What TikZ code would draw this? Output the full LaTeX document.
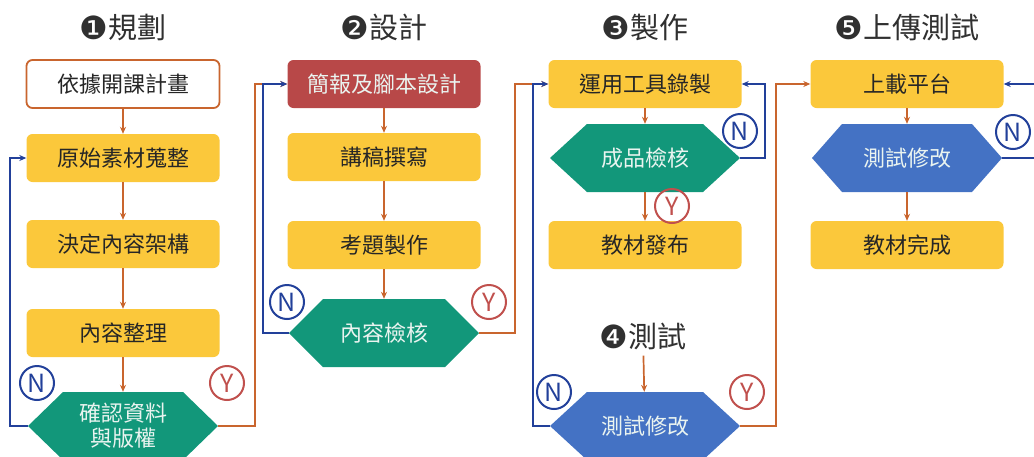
\documentclass[tikz,border=0pt]{standalone}
\usepackage{fontspec}
\setmainfont{Noto Sans CJK TC}
\newfontfamily\dingfont{DejaVu Sans}
\usetikzlibrary{arrows.meta}
\definecolor{boxyellow}{HTML}{FBC83B}
\definecolor{boxred}{HTML}{B84848}
\definecolor{hexteal}{HTML}{12977A}
\definecolor{hexblue}{HTML}{4472C4}
\definecolor{linenavy}{HTML}{22409A}
\definecolor{lineorange}{HTML}{C9652E}
\definecolor{ycol}{HTML}{C0504D}
\definecolor{textdark}{HTML}{262626}
\definecolor{titlegray}{HTML}{303030}
\definecolor{hextext}{HTML}{EAF4F0}
\tikzset{
  conn/.style={draw=lineorange, line width=1.7pt, -{Stealth[length=7pt,width=6pt]}},
  loopn/.style={draw=linenavy, line width=1.7pt, -{Stealth[length=7pt,width=6pt]}},
  ybox/.style={rectangle, rounded corners=6pt, fill=boxyellow, minimum width=193pt, minimum height=48pt, font=\fontsize{22}{26}\selectfont, text=textdark, inner sep=0pt},
  wbox/.style={ybox, fill=white, draw=lineorange, line width=1.8pt},
  rbox/.style={ybox, fill=boxred, text=hextext},
  titlestyle/.style={font=\fontsize{29}{34}\selectfont, text=titlegray, inner sep=0pt},
  hexbox/.style={rectangle, minimum width=190pt, minimum height=68pt, inner sep=0pt, font=\fontsize{22}{26}\selectfont, text=hextext, align=center},
  ncirc/.style={circle, draw=linenavy, line width=2pt, minimum size=34pt, inner sep=0pt, text=linenavy, font=\fontsize{25}{25}\selectfont},
  ycirc/.style={ncirc, draw=ycol, text=ycol}
}
\newcommand\hexshape[4]{%
  \fill[#4] (#1-95,#2) -- (#1-95+#3,#2-34) -- (#1+95-#3,#2-34) -- (#1+95,#2) -- (#1+95-#3,#2+34) -- (#1-95+#3,#2+34) -- cycle;}
\newcommand\numc[1]{\raisebox{-1pt}{\dingfont\fontsize{32}{32}\selectfont #1}}
\begin{document}
\begin{tikzpicture}[x=1pt,y=-1pt]
\useasboundingbox (0,0) rectangle (1034,456);
\clip (0,0) rectangle (1034,456);
% titles
\node[titlestyle] (t1) at (123,27) {\numc{❶}規劃};
\node[titlestyle] (t2) at (384,27) {\numc{❷}設計};
\node[titlestyle] (t3) at (645,27) {\numc{❸}製作};
\node[titlestyle] (t4) at (643,336) {\numc{❹}測試};
\node[titlestyle] (t5) at (907,27) {\numc{❺}上傳測試};
% column 1
\node[wbox] (a1) at (123,84) {依據開課計畫};
\node[ybox] (a2) at (123,158) {原始素材蒐整};
\node[ybox] (a3) at (123,244) {決定內容架構};
\node[ybox] (a4) at (123,333) {內容整理};
\hexshape{123}{426}{35}{hexteal}
\node[hexbox] (a5) at (123,426) {確認資料\\[-1pt]與版權};
% column 2
\node[rbox] (b1) at (384,84) {簡報及腳本設計};
\node[ybox] (b2) at (384,157) {講稿撰寫};
\node[ybox] (b3) at (384,245) {考題製作};
\hexshape{384}{333}{34}{hexteal}
\node[hexbox] (b4) at (384,333) {內容檢核};
% column 3
\node[ybox] (c1) at (645,84) {運用工具錄製};
\hexshape{645}{158}{37}{hexteal}
\node[hexbox] (c2) at (645,158) {成品檢核};
\node[ybox] (c3) at (645,245) {教材發布};
\hexshape{645}{426}{37}{hexblue}
\node[hexbox] (c4) at (645,426) {測試修改};
% column 4
\node[ybox] (d1) at (907,84) {上載平台};
\hexshape{907}{158}{30}{hexblue}
\node[hexbox] (d2) at (907,158) {測試修改};
\node[ybox] (d3) at (907,245) {教材完成};
% straight connectors
\draw[conn] (a1) -- (a2);
\draw[conn] (a2) -- (a3);
\draw[conn] (a3) -- (a4);
\draw[conn] (a4) -- (a5);
\draw[conn] (b1) -- (b2);
\draw[conn] (b2) -- (b3);
\draw[conn] (b3) -- (b4);
\draw[conn] (c1) -- (c2);
\draw[conn] (c2) -- (c3);
\draw[conn, shorten <=6pt] (t4) -- (c4);
\draw[conn] (d1) -- (d2);
\draw[conn] (d2) -- (d3);
% Y loops
\draw[conn] (a5.east) -- (255,426) |- (b1.west);
\draw[conn] (b4.east) -- (515,333) |- (c1.west);
\draw[conn] (c4.east) -- (776,426) |- (d1.west);
% N loops
\draw[loopn] (a5.west) -- (10,426) |- (a2.west);
\draw[loopn] (b4.west) -- (263,333) |- (b1.west);
\draw[loopn] (c2.east) -- (765,158) |- (c1.east);
\draw[loopn] (c4.west) -- (533,426) |- (c1.west);
\draw[loopn] (d2.east) -- (1045,158) |- (d1.east);
% circles
\node[ncirc] (n1) at (37,383) {N};
\node[ycirc] (y1) at (227,383) {Y};
\node[ncirc] (n2) at (287,302) {N};
\node[ycirc] (y2) at (489,302) {Y};
\node[ncirc] (n3) at (740,131) {N};
\node[ycirc] (y3) at (672,206) {Y};
\node[ncirc] (n4) at (554,392) {N};
\node[ycirc] (y4) at (747,392) {Y};
\node[ncirc] (n5) at (1013,132) {N};
\end{tikzpicture}
\end{document}
